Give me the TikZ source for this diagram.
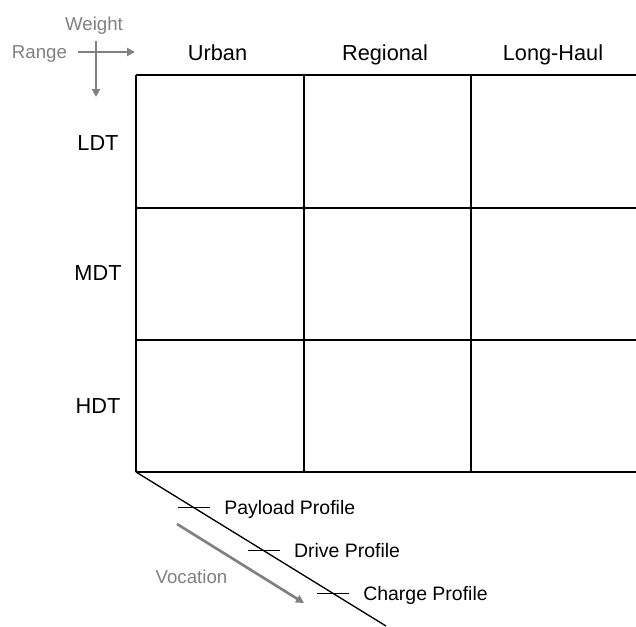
\documentclass[tikz,border=0pt]{standalone}
\usepackage{fontspec}
\setmainfont{Liberation Sans}
\usetikzlibrary{positioning,arrows.meta,calc}
\definecolor{axisgray}{RGB}{128,128,128}
\tikzset{
  gridline/.style={line width=1pt, black},
  axisarrow/.style={line width=2pt, axisgray, -{Triangle[length=6pt,width=6pt]}},
  headlabel/.style={anchor=base, inner sep=0pt, font=\fontsize{16.3}{19}\selectfont},
  axislabel/.style={anchor=base, text=axisgray, inner sep=0pt, font=\fontsize{14}{17}\selectfont},
  ticklabel/.style={anchor=base west, inner sep=0pt, font=\fontsize{14.6}{17}\selectfont},
}
\begin{document}
\begin{tikzpicture}[x=0.75pt, y=-0.75pt]
\useasboundingbox (0,0) rectangle (636,626);

% grid
\foreach \y in {75,208,340,472}
  \draw[gridline] (136,\y) -- (636,\y);
\foreach \x in {136,304,471}
  \draw[gridline] (\x,75) -- (\x,472);

% column and row heads
\node[headlabel] (urban) at (217.5,60) {Urban};
\node[headlabel] (regional) at (385,60) {Regional};
\node[headlabel] (longhaul) at (553,60) {Long-Haul};
\node[headlabel] (ldt) at (98,150) {LDT};
\node[headlabel] (mdt) at (98,280) {MDT};
\node[headlabel] (hdt) at (98,413) {HDT};

% weight / range axes
\node[axislabel] (weight) at (94,30) {Weight};
\node[axislabel] (range) at (39.5,58) {Range};
\coordinate (hstart) at (78,52);
\coordinate (hend) at (135,52);
\coordinate (vstart) at (96,41);
\coordinate (vend) at (96,97);
\draw[axisarrow] (hstart) -- (hend);
\draw[axisarrow] (vstart) -- (vend);

% vocation axis
\coordinate (o) at (136,472);
\coordinate (far) at (386,626);
\draw[gridline] (o) -- (far);

\coordinate (p1) at ($(o)!0.232!(far)$);
\coordinate (p2) at ($(o)!0.511!(far)$);
\coordinate (p3) at ($(o)!0.788!(far)$);
\draw[gridline] ([xshift=-12pt]p1) -- ([xshift=12pt]p1) coordinate (p1e);
\draw[gridline] ([xshift=-12pt]p2) -- ([xshift=12pt]p2) coordinate (p2e);
\draw[gridline] ([xshift=-12pt]p3) -- ([xshift=12pt]p3) coordinate (p3e);
\node[ticklabel] (payload) at ($(p1e)+(14,7)$) {Payload Profile};
\node[ticklabel] (drive) at ($(p2e)+(14,7)$) {Drive Profile};
\node[ticklabel] (charge) at ($(p3e)+(14,7)$) {Charge Profile};

\coordinate (vocstart) at (177,524);
\coordinate (vocend) at (304,603);
\draw[axisarrow] (vocstart) -- (vocend);
\node[axislabel] (vocation) at (191.5,583) {Vocation};
\end{tikzpicture}
\end{document}
